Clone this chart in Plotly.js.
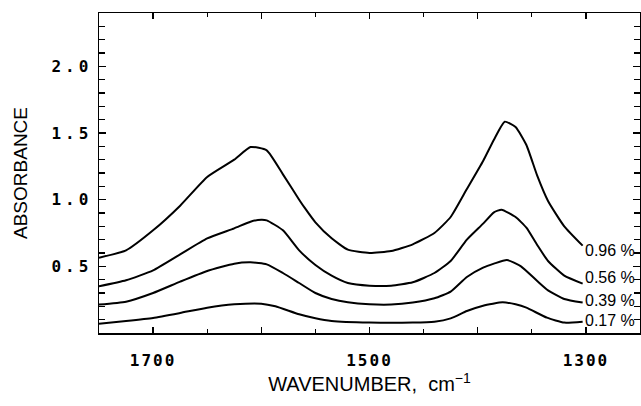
<!DOCTYPE html>
<html>
<head>
<meta charset="utf-8">
<script src="https://cdn.plot.ly/plotly-3.0.1.min.js"></script>
<style>
  html, body { margin: 0; padding: 0; background: #fff; }
  #chart { width: 641px; height: 406px; }
  .ytick text { letter-spacing: 4px; }
  .xtick text { letter-spacing: 2px; }
</style>
</head>
<body>
<div id="chart"></div>
<script>
// IR absorbance spectra at four concentrations (wavenumber in cm-1)
const wn96  = [1750, 1725, 1700, 1675, 1650, 1625, 1610, 1595, 1580, 1565, 1560, 1550, 1535, 1520, 1500, 1480, 1460, 1440, 1425, 1410, 1395, 1385, 1375, 1365, 1355, 1345, 1335, 1320, 1303];
const abs96 = [0.565, 0.62, 0.77, 0.955, 1.17, 1.30, 1.395, 1.37, 1.19, 1.00, 0.94, 0.83, 0.71, 0.625, 0.60, 0.615, 0.665, 0.75, 0.87, 1.08, 1.29, 1.45, 1.585, 1.545, 1.41, 1.18, 0.99, 0.80, 0.655];

const wn56  = [1750, 1725, 1700, 1675, 1650, 1625, 1610, 1600, 1595, 1580, 1565, 1550, 1535, 1520, 1500, 1480, 1460, 1440, 1425, 1410, 1395, 1385, 1378, 1365, 1355, 1345, 1335, 1320, 1303];
const abs56 = [0.35, 0.395, 0.47, 0.59, 0.71, 0.785, 0.835, 0.85, 0.845, 0.77, 0.62, 0.51, 0.43, 0.375, 0.355, 0.355, 0.38, 0.45, 0.54, 0.70, 0.82, 0.905, 0.925, 0.87, 0.79, 0.66, 0.54, 0.43, 0.37];

const wn39  = [1750, 1725, 1700, 1675, 1650, 1625, 1610, 1595, 1580, 1565, 1550, 1535, 1520, 1500, 1480, 1460, 1440, 1425, 1410, 1395, 1385, 1373, 1360, 1345, 1335, 1320, 1303];
const abs39 = [0.213, 0.235, 0.30, 0.385, 0.465, 0.52, 0.53, 0.515, 0.45, 0.375, 0.30, 0.255, 0.23, 0.215, 0.213, 0.228, 0.26, 0.31, 0.42, 0.49, 0.52, 0.548, 0.50, 0.39, 0.32, 0.255, 0.228];

const wn17  = [1750, 1725, 1700, 1675, 1650, 1625, 1600, 1587, 1565, 1550, 1535, 1500, 1460, 1440, 1425, 1410, 1395, 1377, 1365, 1355, 1336, 1320, 1303];
const abs17 = [0.07, 0.09, 0.113, 0.15, 0.19, 0.215, 0.22, 0.20, 0.14, 0.11, 0.09, 0.078, 0.078, 0.085, 0.11, 0.165, 0.205, 0.23, 0.215, 0.19, 0.115, 0.078, 0.085];

const seriesLabels = ['0.96 %', '0.56 %', '0.39 %', '0.17 %'];
const seriesX = [wn96, wn56, wn39, wn17];
const seriesY = [abs96, abs56, abs39, abs17];
// vertical nudge (px) of each end label relative to its curve end
const labelShift = [-5, 6, 2, 1];

const traces = seriesX.map((xs, i) => ({
  x: xs,
  y: seriesY[i],
  type: 'scatter',
  mode: 'lines',
  line: { color: '#000', width: 2, shape: 'spline', smoothing: 0.5 },
  hoverinfo: 'skip',
  showlegend: false
}));

const annotations = seriesX.map((xs, i) => ({
  x: xs[xs.length - 1],
  y: seriesY[i][seriesY[i].length - 1],
  xref: 'x', yref: 'y',
  text: seriesLabels[i],
  showarrow: false,
  xanchor: 'left',
  yanchor: 'middle',
  xshift: 0,
  yshift: labelShift[i],
  font: { family: '"Liberation Sans", Arial, sans-serif', size: 16, color: '#000' }
}));

const tickFont = { family: '"DejaVu Sans Mono", monospace', size: 16, color: '#000', weight: 'bold' };

const layout = {
  width: 641,
  height: 406,
  margin: { l: 99, r: 1, t: 13, b: 73 },
  paper_bgcolor: '#fff',
  plot_bgcolor: '#fff',
  showlegend: false,
  xaxis: {
    range: [1750, 1250],
    tick0: 1300,
    dtick: 100,
    ticklabelstep: 2,
    ticks: 'inside',
    ticklen: 6,
    tickwidth: 1.5,
    tickcolor: '#000',
    minor: { dtick: 50, tick0: 1300, ticks: 'inside', ticklen: 4, tickwidth: 1.2, tickcolor: '#000' },
    showline: true,
    linecolor: '#000',
    linewidth: 1.5,
    mirror: 'ticks',
    showgrid: false,
    zeroline: false,
    tickfont: tickFont,
    ticklabelstandoff: 12,
    title: {
      text: 'WAVENUMBER,&nbsp;&nbsp;cm<sup>\u22121</sup>',
      font: { family: '"Liberation Sans", Arial, sans-serif', size: 20, color: '#000' },
      standoff: 8
    }
  },
  yaxis: {
    range: [0, 2.4],
    tickmode: 'array',
    tickvals: [0.5, 1.0, 1.5, 2.0],
    ticktext: ['0.5', '1.0', '1.5', '2.0'],
    ticks: 'inside',
    ticklen: 7,
    tickwidth: 1.5,
    tickcolor: '#000',
    minor: { tickmode: 'linear', tick0: 0, dtick: 0.1, ticks: 'inside', ticklen: 6, tickwidth: 1.2, tickcolor: '#000' },
    showline: true,
    linecolor: '#000',
    linewidth: 1.5,
    mirror: 'ticks',
    showgrid: false,
    zeroline: false,
    tickfont: tickFont,
    ticklabelstandoff: 2,
    title: {
      text: 'ABSORBANCE',
      font: { family: '"Liberation Sans", Arial, sans-serif', size: 19, color: '#000' },
      standoff: 18
    }
  },
  annotations: annotations
};

Plotly.newPlot('chart', traces, layout, { staticPlot: true, displayModeBar: false });
</script>
</body>
</html>
